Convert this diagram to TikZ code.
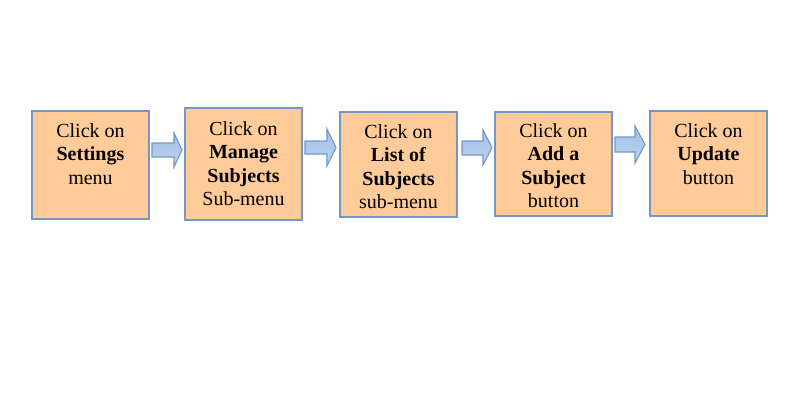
\documentclass[tikz,border=0pt]{standalone}
\usepackage{fontspec}
\setmainfont{Liberation Serif}
\definecolor{boxfill}{HTML}{FFCC99}
\definecolor{boxline}{HTML}{7396C3}
\definecolor{arrtop}{HTML}{A0BFE6}
\definecolor{arrbot}{HTML}{BDD4EF}
\definecolor{arrline}{HTML}{7398C6}
\tikzset{
  flowbox/.style={draw=boxline, line width=1.8pt, fill=boxfill, inner sep=0pt},
  flowtext/.style={anchor=north, align=center, inner sep=0pt, font=\fontsize{20}{23.5}\selectfont},
  blockarr/.style={draw=arrline, line width=1.1pt, top color=arrtop, bottom color=arrbot, line join=miter}
}
% #1 start x, #2 shaft end x, #3 tip x, #4 head top, #5 shaft top, #6 shaft bottom, #7 head bottom
\newcommand{\blockarrow}[7]{%
  \draw[blockarr] (#1,#5) -- (#2,#5) -- (#2,#4) -- (#3,{(#4+#7)/2}) -- (#2,#7) -- (#2,#6) -- (#1,#6) -- cycle;}
\begin{document}
\begin{tikzpicture}[x=1pt,y=-1pt]
\useasboundingbox (0,0) rectangle (789,404);
\node[flowbox, minimum width=117pt, minimum height=108pt] (b1) at (90.5,165) {};
\node[flowbox, minimum width=117pt, minimum height=112pt] (b2) at (243.5,164) {};
\node[flowbox, minimum width=117pt, minimum height=105pt] (b3) at (398.5,164.5) {};
\node[flowbox, minimum width=117pt, minimum height=104pt] (b4) at (553.5,164) {};
\node[flowbox, minimum width=117pt, minimum height=105pt] (b5) at (708.5,163.5) {};
\node[flowtext] (t1) at (90.5,123) {Click on\\\textbf{Settings}\\menu};
\node[flowtext] (t2) at (243.5,121) {Click on\\\textbf{Manage}\\\textbf{Subjects}\\Sub-menu};
\node[flowtext] (t3) at (398.5,124) {Click on\\\textbf{List of}\\\textbf{Subjects}\\sub-menu};
\node[flowtext] (t4) at (553.5,123) {Click on\\\textbf{Add a}\\\textbf{Subject}\\button};
\node[flowtext] (t5) at (708.5,123) {Click on\\\textbf{Update}\\button};
\blockarrow{152}{174}{182}{133}{143}{157}{167}
\blockarrow{305}{327}{336}{129}{141}{154}{166}
\blockarrow{462}{483}{492}{130}{141}{155}{165}
\blockarrow{615}{635}{645}{126}{137}{152}{163}
\end{tikzpicture}
\end{document}
